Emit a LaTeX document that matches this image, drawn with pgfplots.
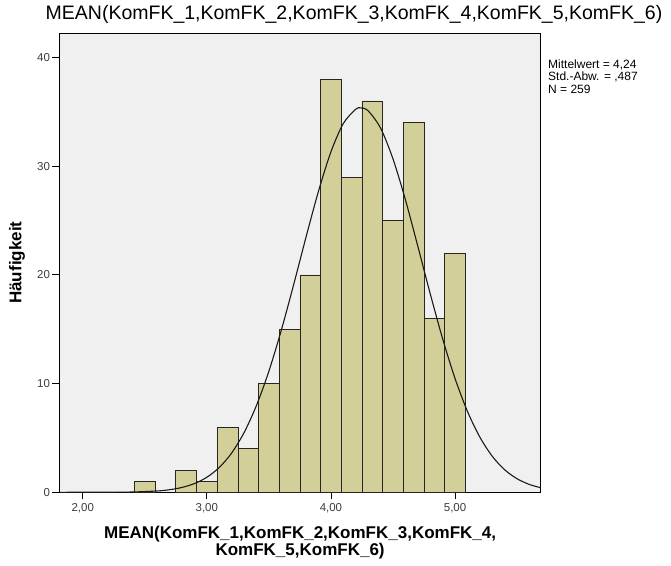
\documentclass[border=0pt]{standalone}
\usepackage{pgfplots}
\pgfplotsset{compat=1.18}
\usepackage{fontspec}
\setmainfont{Liberation Sans}
\definecolor{barfill}{RGB}{211,207,152}
\definecolor{plotbg}{RGB}{240,240,240}
\definecolor{ticktext}{RGB}{60,60,60}
\begin{document}
\begin{tikzpicture}
\useasboundingbox (0,0) rectangle (671bp,566bp);
\begin{axis}[
  at={(59.5bp,73.7bp)}, anchor=south west,
  scale only axis, width=481.2bp, height=459.3bp,
  xmin=1.813, xmax=5.69, ymin=0, ymax=42.25,
  clip=false,
  axis background/.style={fill=plotbg},
  axis line style={black, line width=0.8pt},
  xtick={2,3,4,5}, xticklabels={{2,00},{3,00},{4,00},{5,00}},
  ytick={0,10,20,30,40}, yticklabels={0,10,20,30,40},
  xtick pos=bottom, ytick pos=left, tick align=outside,
  major tick length=7bp,
  tick style={black, line width=0.8pt},
  tick label style={font=\fontsize{11.5bp}{13bp}\selectfont, text=ticktext},
  xticklabel style={yshift=-1bp},
  yticklabel style={xshift=1bp},
  title={MEAN(KomFK\_1,KomFK\_2,KomFK\_3,KomFK\_4,KomFK\_5,KomFK\_6)},
  title style={at={(axis description cs:0.612,1.0174)}, anchor=base, inner sep=0pt,
    font=\fontsize{19.5bp}{21bp}\selectfont},
  xlabel={MEAN(KomFK\_1,KomFK\_2,KomFK\_3,KomFK\_4,\\KomFK\_5,KomFK\_6)},
  xlabel style={at={(axis description cs:0.5,-0.0734)}, anchor=north, inner sep=0pt, align=center,
    font=\fontsize{17bp}{16.5bp}\selectfont\bfseries},
  ylabel={Häufigkeit},
  ylabel style={at={(axis description cs:-0.0883,0.5)}, anchor=center, inner sep=0pt,
    font=\fontsize{17bp}{19bp}\selectfont\bfseries},
]
\addplot[ybar, bar width=0.166667, bar shift=0pt, fill=barfill, draw=black!85, line width=0.7pt]
coordinates {
(2.5,1) (2.83333,2) (3.0,1) (3.16667,6) (3.33333,4) (3.5,10) (3.66667,15)
(3.83333,20) (4.0,38) (4.16667,29) (4.33333,36) (4.5,25) (4.66667,34)
(4.83333,16) (5.0,22)
};
\addplot[black!90, line width=1.1pt, smooth, mark=none] coordinates {
(1.813,0.0001) (2.0,0.0009) (2.2,0.0055) (2.4,0.028) (2.6,0.122) (2.7,0.238)
(2.8,0.447) (2.9,0.802) (3.0,1.382) (3.1,2.283) (3.2,3.614) (3.3,5.488)
(3.4,7.99) (3.5,11.14) (3.6,14.91) (3.7,19.12) (3.8,23.51) (3.9,27.71)
(4.0,31.32) (4.1,33.93) (4.2,35.24) (4.24,35.36) (4.3,35.09) (4.4,33.50)
(4.5,30.66) (4.6,26.91) (4.7,22.63) (4.8,18.26) (4.9,14.12) (5.0,10.46)
(5.1,7.44) (5.2,5.07) (5.3,3.31) (5.4,2.07) (5.5,1.244) (5.6,0.716) (5.69,0.42)
};
\node[anchor=north west, inner sep=0pt, align=left, font=\fontsize{12bp}{12.5bp}\selectfont]
  at (axis description cs:1.0152,0.943) {Mittelwert = 4,24\\Std.-Abw. = ,487\\N = 259};
\end{axis}
\end{tikzpicture}
\end{document}
